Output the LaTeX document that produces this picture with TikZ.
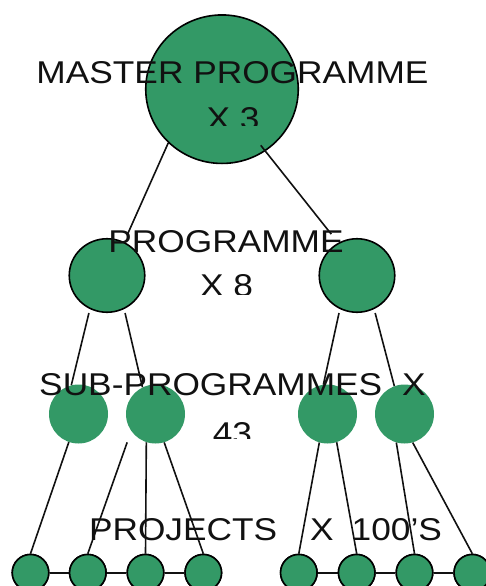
\documentclass[tikz,border=0pt]{standalone}
\usepackage{fontspec}
\setmainfont[FakeStretch=1.12]{Liberation Sans}
\usepackage{xcolor}
\usepackage{tikz}
\usetikzlibrary{shapes.geometric}
\definecolor{TreeGreen}{HTML}{339966}
\definecolor{TreeInk}{HTML}{111111}

\begin{document}
\begin{tikzpicture}[x=1pt,y=-1pt,
    bigdisc/.style={ellipse,draw=black,line width=1.6pt,fill=TreeGreen,
      minimum width=152.5pt,minimum height=148.5pt,inner sep=0pt},
    middisc/.style={ellipse,draw=black,line width=1.6pt,fill=TreeGreen,
      minimum width=75.5pt,minimum height=73.5pt,inner sep=0pt},
    subdisc/.style={circle,fill=TreeGreen,minimum size=59pt,inner sep=0pt},
    projdisc/.style={circle,draw=black,line width=1.6pt,fill=TreeGreen,
      minimum size=36.5pt,inner sep=0pt},
    link/.style={TreeInk,line width=1.6pt},
    lbl/.style={anchor=base,inner sep=0pt,text=TreeInk,
      font=\fontsize{31.5}{38}\selectfont}]
  \useasboundingbox (0,0) rectangle (485,586);

  \node[bigdisc] (master) at (222,89.2) {};
  \node[middisc] (prog1) at (107,275.5) {};
  \node[middisc] (prog2) at (357,275.5) {};
  \node[subdisc] (sub1) at (78.5,414) {};
  \node[subdisc] (sub2) at (155.5,414) {};
  \node[subdisc] (sub3) at (327.5,414) {};
  \node[subdisc] (sub4) at (404.5,414) {};
  \node[projdisc] (proj1) at (30.5,572.7) {};
  \node[projdisc] (proj2) at (87.8,572.7) {};
  \node[projdisc] (proj3) at (145.5,572.7) {};
  \node[projdisc] (proj4) at (203.3,572.7) {};
  \node[projdisc] (proj5) at (298.8,572.7) {};
  \node[projdisc] (proj6) at (356.7,572.7) {};
  \node[projdisc] (proj7) at (414.5,572.7) {};
  \node[projdisc] (proj8) at (472.3,572.7) {};

  \draw[link,shorten >=9pt] (master.225) -- (prog1.63);
  \draw[link,shorten <=-7.5pt,shorten >=11pt] (master.305) -- (prog2.120);
  \draw[link,shorten <=4pt] (prog1.243) -- (sub1.104);
  \draw[link,shorten <=4pt] (prog1.297) -- (sub2.116);
  \draw[link,shorten <=4pt] (prog2.243) -- (sub3.98);
  \draw[link,shorten <=4pt] (prog2.297) -- (sub4.110);
  \draw[link] (sub1.251) -- (proj1.north);
  \draw[link,shorten <=12pt] (sub2.215) -- (proj2.north);
  \draw[link] (sub2.252) -- (proj3.north);
  \draw[link] (sub2.287) -- (proj4.north);
  \draw[link] (sub3.254) -- (proj5.north);
  \draw[link] (sub3.288) -- (proj6.north);
  \draw[link] (sub4.254) -- (proj7.north);
  \draw[link] (sub4.286) -- (proj8.north);
  \draw[link] (proj1) -- (proj2) -- (proj3) -- (proj4);
  \draw[link] (proj5) -- (proj6) -- (proj7) -- (proj8);
  \node[projdisc] at (proj1) {};
  \node[projdisc] at (proj2) {};
  \node[projdisc] at (proj3) {};
  \node[projdisc] at (proj4) {};
  \node[projdisc] at (proj5) {};
  \node[projdisc] at (proj6) {};
  \node[projdisc] at (proj7) {};
  \node[projdisc] at (proj8) {};

  \node[lbl] (mastertxt) at (232.5,84) {MASTER PROGRAMME};
  \node[lbl] (progtxt) at (226,252) {PROGRAMME};
  \node[lbl] (subtxt) at (232.5,395) {SUB-PROGRAMMES\hspace{20pt}X};
  \node[lbl] (projtxt) at (265.5,540) {PROJECTS\hspace{33pt}X\hspace{18pt}100'S};
  \begin{scope}
    \clip (150,100) rectangle (320,125);
    \node[lbl] (mastercount) at (233,129) {X 3};
  \end{scope}
  \begin{scope}
    \clip (150,265) rectangle (320,294);
    \node[lbl] (progcount) at (226.5,296.5) {X 8};
  \end{scope}
  \begin{scope}
    \clip (150,410) rectangle (320,438.3);
    \node[lbl] (subcount) at (232.5,444) {43};
  \end{scope}
\end{tikzpicture}
\end{document}
